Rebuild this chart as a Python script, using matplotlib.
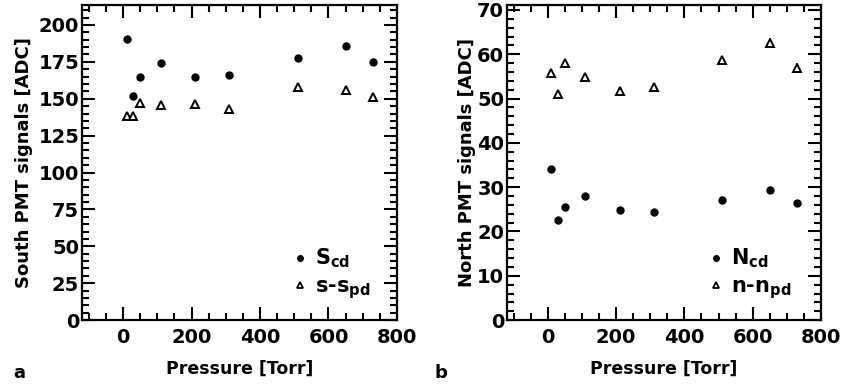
import matplotlib
matplotlib.use("Agg")
import matplotlib.pyplot as plt
from matplotlib.ticker import MultipleLocator
from matplotlib.lines import Line2D

plt.rcParams['font.family'] = ['DejaVu Sans']
plt.rcParams['font.weight'] = 'bold'
plt.rcParams['mathtext.fontset'] = 'dejavusans'

# pressure [Torr]
pressure = [10, 30, 50, 110, 210, 310, 510, 650, 730]

# south PMT
s_cd = [190.5, 152, 165, 174.3, 165, 165.8, 177.5, 186, 175.2]
s_spd = [138, 138, 147, 146, 146.4, 143, 158, 156, 151]

# north PMT
n_cd = [34.2, 22.6, 25.5, 28.0, 24.9, 24.4, 27.0, 29.3, 26.5]
n_npd = [55.7, 51.1, 58.1, 54.8, 51.7, 52.6, 58.6, 62.5, 57.0]
n_npd_err = [0.8, 0.7, 0.8, 1.0, 0.9, 0.9, 1.0, 1.1, 1.0]

fig = plt.figure(figsize=(8.42, 3.88), dpi=100)
ax1 = fig.add_axes([0.0974, 0.175, 0.374, 0.812])
ax2 = fig.add_axes([0.602, 0.175, 0.373, 0.812])


def style(ax, ymax, ymaj, ymin):
    ax.set_xlim(-120, 800)
    ax.set_ylim(0, ymax)
    ax.xaxis.set_major_locator(MultipleLocator(200))
    ax.xaxis.set_minor_locator(MultipleLocator(50))
    ax.yaxis.set_major_locator(MultipleLocator(ymaj))
    ax.yaxis.set_minor_locator(MultipleLocator(ymin))
    ax.tick_params(which='both', direction='in', top=True, right=True,
                   width=1.5, labelsize=14)
    ax.tick_params(which='major', length=9.5)
    ax.tick_params(which='minor', length=5)
    ax.tick_params(axis='x', which='major', pad=6)
    ax.tick_params(axis='y', which='major', pad=2)
    for s in ax.spines.values():
        s.set_linewidth(1.6)
    ax.set_xlabel('Pressure [Torr]', fontsize=12.5, fontweight='bold', labelpad=9)


def legend(ax, labels, xr):
    handles = [Line2D([], [], ls='none', marker='o', color='black', ms=4),
               Line2D([], [], ls='none', marker='^', mfc='white', mec='black',
                      mew=1.3, ms=4.5)]
    ax.legend(handles, labels, loc='lower right', frameon=False, fontsize=15,
              handletextpad=0.1, bbox_to_anchor=(xr, 0.0), labelspacing=0.3,
              handlelength=1.2)


style(ax1, 213.5, 25, 5)
ax1.plot(pressure, s_cd, 'o', color='black', ms=5)
ax1.plot(pressure, s_spd, '^', mfc='white', mec='black', mew=1.4, ms=5.5)
ax1.set_ylabel('South PMT signals [ADC]', fontsize=13, fontweight='bold', labelpad=4)
legend(ax1, [r'$\mathbf{S_{cd}}$', r'$\mathbf{s}$-$\mathbf{s_{pd}}$'], 0.975)

style(ax2, 71.1, 10, 2)
ax2.plot(pressure, n_cd, 'o', color='black', ms=5)
ax2.errorbar(pressure, n_npd, yerr=n_npd_err, fmt='^', mfc='white', mec='black',
             mew=1.4, ms=5.5, ecolor='black', elinewidth=1.2, capsize=0)
ax2.set_ylabel('North PMT signals [ADC]', fontsize=13, fontweight='bold', labelpad=1)
legend(ax2, [r'$\mathbf{N_{cd}}$', r'$\mathbf{n}$-$\mathbf{n_{pd}}$'], 0.965)

fig.text(0.016, 0.027, 'a', fontsize=13, fontweight='bold')
fig.text(0.516, 0.027, 'b', fontsize=13, fontweight='bold')

fig.savefig('out.png', dpi=100)
